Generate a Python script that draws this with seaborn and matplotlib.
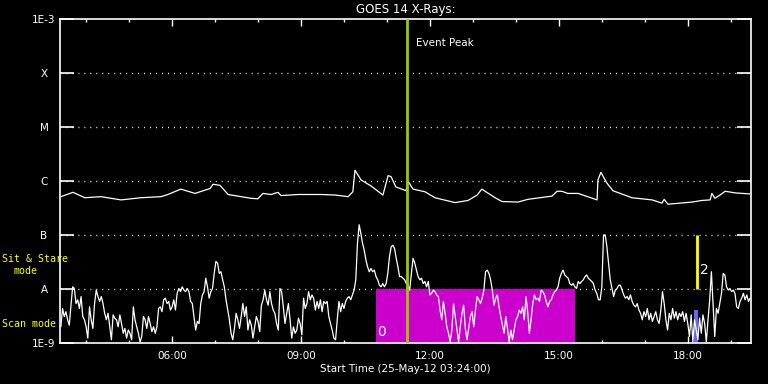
import numpy as np
import pandas as pd
import seaborn as sns
import matplotlib.pyplot as plt
from matplotlib.ticker import FixedLocator, FuncFormatter, NullLocator

# GOES 14 X-ray flux, 25-May-2012, time in hours of day (UT)
start_hour = 3.4
end_hour = 19.47

# long channel (1-8 A) as log10(flux)
long_hours = [3.42, 3.70, 3.98, 4.35, 4.82, 5.28, 5.75, 5.91, 6.03, 6.21, 6.54, 6.73,
              6.89, 6.96, 7.12, 7.31, 7.84, 8.00, 8.12, 8.31, 8.47, 8.54, 8.93, 9.47,
              9.80, 10.10, 10.21, 10.26, 10.40, 10.63, 10.91, 11.03, 11.10, 11.21, 11.45,
              11.49, 11.61, 11.89, 12.12, 12.59, 12.89, 13.10, 13.21, 13.52, 13.68, 14.05,
              14.28, 14.84, 14.96, 15.07, 15.21, 15.45, 15.89, 15.91, 15.98, 16.12, 16.26,
              16.70, 17.17, 17.40, 17.45, 17.54, 18.10, 18.33, 18.52, 18.56, 18.63, 18.75,
              18.87, 19.10, 19.45]
long_log = [-6.29, -6.21, -6.31, -6.29, -6.35, -6.31, -6.29, -6.25, -6.21, -6.15, -6.23, -6.18,
            -6.14, -6.06, -6.08, -6.25, -6.32, -6.33, -6.23, -6.25, -6.21, -6.27, -6.25, -6.25,
            -6.26, -6.29, -6.20, -5.80, -5.98, -6.09, -6.26, -5.90, -5.92, -6.11, -6.18,
            -6.00, -6.15, -6.20, -6.31, -6.40, -6.36, -6.26, -6.15, -6.31, -6.38, -6.39,
            -6.34, -6.28, -6.19, -6.19, -6.23, -6.23, -6.35, -5.98, -5.84, -6.04, -6.18,
            -6.31, -6.35, -6.41, -6.34, -6.43, -6.39, -6.36, -6.35, -6.23, -6.32, -6.26,
            -6.19, -6.22, -6.24]

# short channel (0.5-4 A), evenly sampled between these two times
short_first, short_last = 3.42, 19.45
short_log = [
    -8.70, -8.36, -8.51, -8.42, -8.57, -8.67, -8.30, -7.96, -7.99, -8.27, -8.20, -8.36,
    -8.14, -8.51, -8.57, -8.70, -8.91, -8.33, -8.57, -8.73, -8.27, -8.02, -8.14, -8.23,
    -8.14, -8.27, -8.45, -8.57, -8.45, -8.70, -8.94, -8.48, -8.54, -8.57, -8.70, -8.48,
    -8.64, -8.82, -8.73, -8.91, -8.76, -8.82, -8.94, -8.33, -8.57, -8.70, -8.82, -8.98,
    -8.88, -8.51, -8.57, -8.73, -8.51, -8.64, -8.79, -8.70, -8.82, -8.70, -8.36, -8.33,
    -8.42, -8.20, -8.17, -8.27, -8.23, -8.39, -8.33, -8.20, -8.39, -8.08, -7.99, -8.05,
    -7.96, -8.02, -8.05, -7.99, -8.05, -8.23, -8.27, -8.51, -8.76, -8.60, -8.64, -8.27,
    -8.11, -8.05, -7.80, -7.96, -8.17, -8.05, -7.99, -7.71, -7.49, -7.52, -7.71, -7.68,
    -7.83, -7.96, -8.20, -8.39, -8.57, -8.82, -8.94, -8.73, -8.45, -8.57, -8.73, -8.51,
    -8.27, -8.51, -8.33, -8.76, -8.57, -8.67, -8.91, -8.70, -8.51, -8.60, -8.79, -8.30,
    -8.20, -8.02, -8.20, -8.30, -8.05, -8.27, -8.39, -8.45, -8.64, -8.76, -7.99, -8.05,
    -8.33, -8.64, -8.45, -8.27, -8.57, -8.91, -8.70, -8.82, -8.76, -8.54, -8.64, -8.85,
    -8.17, -8.36, -8.27, -8.05, -8.20, -8.11, -8.17, -8.39, -8.23, -8.36, -8.20, -8.42,
    -8.23, -8.27, -8.23, -8.51, -8.64, -8.76, -8.91, -8.94, -8.57, -8.23, -8.42, -8.27,
    -8.36, -8.23, -8.17, -8.14, -8.20, -8.11, -8.02, -7.83, -7.15, -6.81, -6.97, -7.15,
    -7.28, -7.46, -7.59, -7.68, -7.62, -7.68, -7.65, -7.77, -7.83, -7.93, -7.96, -7.90,
    -7.96, -7.90, -7.71, -7.40, -7.22, -7.19, -7.25, -7.43, -7.59, -7.77, -7.77, -7.80,
    -7.83, -7.90, -7.93, -8.02, -7.71, -7.43, -7.52, -7.65, -7.77, -7.83,
    -7.80, -7.90, -7.86, -7.96, -7.86, -8.11, -8.08, -8.02, -8.05, -8.11, -8.14, -8.39,
    -8.57, -8.23, -8.45, -8.70, -8.82, -8.98, -8.76, -8.27, -8.51, -8.76, -8.98, -8.70,
    -8.45, -8.30, -8.73, -8.94, -8.73, -8.51, -8.42, -8.70, -8.39, -8.14, -8.20, -8.27,
    -8.17, -8.02, -7.68, -7.65, -7.71, -7.83, -8.02, -8.30, -8.17, -8.11, -8.33, -8.51,
    -8.67, -8.82, -8.51, -8.73, -8.98, -8.76, -8.94, -8.76, -8.57, -8.51, -8.39, -8.45,
    -8.33, -8.57, -8.14, -8.42, -8.82, -8.57, -8.27, -8.11, -8.20, -8.17, -8.23, -8.02,
    -8.05, -8.11, -8.23, -8.33, -8.23, -8.20, -8.11, -8.05, -8.02, -7.96, -7.80, -7.71,
    -7.65, -7.74, -7.77, -7.80, -7.90, -7.93, -7.90, -7.96, -7.99, -7.86, -7.90, -7.86,
    -7.83, -7.77, -7.74, -7.80, -7.83, -7.86,
    -7.90, -8.02, -8.08, -8.20, -8.20, -7.96, -7.00, -7.00, -7.22, -7.52, -7.83, -7.99,
    -8.14, -8.02, -7.99, -7.93, -7.93, -8.02, -8.11, -8.17, -8.14, -8.20, -8.11, -8.23,
    -8.30, -8.33, -8.27, -8.39, -8.45, -8.57, -8.42, -8.51, -8.36, -8.57, -8.45, -8.60,
    -8.51, -8.42, -8.57, -8.64, -8.39, -8.05, -8.27, -8.57, -8.76, -8.45, -8.57, -8.36,
    -8.54, -8.42, -8.57, -8.45, -8.51, -8.42, -8.60, -8.45, -8.64, -8.88, -8.48, -8.98,
    -8.57, -8.76, -8.94, -8.54, -8.82, -8.48, -8.64, -8.98, -8.57, -8.20, -7.68, -8.27,
    -8.88, -8.36, -8.45, -8.27, -8.08, -7.71, -7.74, -7.96, -8.02, -7.99, -8.05, -8.02,
    -8.08, -8.33, -8.36, -8.23, -8.17, -8.08, -8.20, -8.11, -8.23, -8.17,
]

# annotations
event_peak = 11.47
scan_start, scan_end = 10.75, 15.38
stare_hour = 18.21
gap_hour, gap_top = 18.18, 10 ** -8.39

level_values = [1e-9, 1e-8, 1e-7, 1e-6, 1e-5, 1e-4, 1e-3]
level_labels = ["1E-9", "A", "B", "C", "M", "X", "1E-3"]
grid_levels = [1e-8, 1e-7, 1e-6, 1e-5, 1e-4]
hour_ticks = [6, 9, 12, 15, 18]
minor_hours = list(range(4, 20))

long_df = pd.DataFrame({"hour": long_hours, "flux": np.power(10.0, long_log)})
short_df = pd.DataFrame({"hour": np.linspace(short_first, short_last, len(short_log)),
                         "flux": np.power(10.0, short_log)})

sns.set_theme(style="dark", rc={"figure.facecolor": "black", "axes.facecolor": "black",
                                "axes.edgecolor": "white", "text.color": "white",
                                "xtick.color": "white", "ytick.color": "white"})
plt.rcParams["font.family"] = ["DejaVu Sans"]

fig = plt.figure(figsize=(7.68, 3.84), dpi=100)
ax = fig.add_axes([60 / 768, 41 / 384, 691 / 768, 324 / 384])
ax.set_yscale("log")

# scan-mode block and markers
ax.fill_between([scan_start, scan_end], 1e-9, 1e-8, color="#cc00cc", lw=0, zorder=1)
ax.vlines(gap_hour, 1e-9, gap_top, color="#6666ff", lw=3.0, zorder=2)

sns.lineplot(data=long_df, x="hour", y="flux", ax=ax, color="white", lw=0.9,
             estimator=None, zorder=3)
sns.lineplot(data=short_df, x="hour", y="flux", ax=ax, color="white", lw=0.9,
             estimator=None, zorder=3)

ax.axvline(event_peak, color="#99cc00", lw=2.0, zorder=4)
ax.vlines(stare_hour, 1e-8, 1e-7, color="#ffff00", lw=2.0, zorder=4)

for lv in grid_levels:
    ax.axhline(lv, color="white", lw=1.0, linestyle=(0, (0.7, 3.6)), zorder=0.5)

ax.set_xlim(start_hour, end_hour)
ax.set_ylim(1e-9, 1e-3)

ax.xaxis.set_major_locator(FixedLocator(hour_ticks))
ax.xaxis.set_minor_locator(FixedLocator(minor_hours))
ax.xaxis.set_major_formatter(FuncFormatter(lambda v, p: "%02d:00" % int(round(v))))
ax.yaxis.set_major_locator(FixedLocator(level_values))
ax.yaxis.set_minor_locator(NullLocator())
ax.set_yticklabels(level_labels)
for lab in ax.get_yticklabels():
    lab.set_horizontalalignment("center")

ax.tick_params(axis="x", which="major", direction="in", length=5, width=1,
               top=True, bottom=True, labelsize=7.5, pad=6)
ax.tick_params(axis="x", which="minor", direction="in", length=2.5, width=1,
               top=True, bottom=True)
ax.tick_params(axis="y", which="major", direction="in", length=10, width=1.2,
               left=True, right=True, labelsize=7.5, pad=11.5)
ax.grid(False)
for s in ax.spines.values():
    s.set_color("white")
    s.set_linewidth(1.2)

ax.set_xlabel("Start Time (25-May-12 03:24:00)", fontsize=7.5, color="white", labelpad=2)
ax.set_ylabel("")
ax.set_title("GOES 14 X-Rays:", fontsize=8.5, color="white", pad=4)

ax.text(event_peak + 0.22, 10 ** -3.45, "Event Peak", fontsize=7.5, color="white",
        va="center", ha="left")
ax.text(scan_start + 0.03, 10 ** -8.8, "0", fontsize=10, color="white",
        va="center", ha="left")
ax.text(stare_hour + 0.07, 10 ** -7.65, "2", fontsize=10, color="white",
        va="center", ha="left")

mono = ["DejaVu Sans Mono"]
fig.text(2 / 768, 1 - 259 / 384, "Sit & Stare", fontsize=7.2, color="#ffff00",
         va="center", ha="left", family=mono)
fig.text(25 / 768, 1 - 271 / 384, "mode", fontsize=7.2, color="#ffff00",
         va="center", ha="center", family=mono)
fig.text(2 / 768, 1 - 324 / 384, "Scan mode", fontsize=7.2, color="#ffff00",
         va="center", ha="left", family=mono)

fig.savefig("out.png", dpi=100, facecolor="black")
